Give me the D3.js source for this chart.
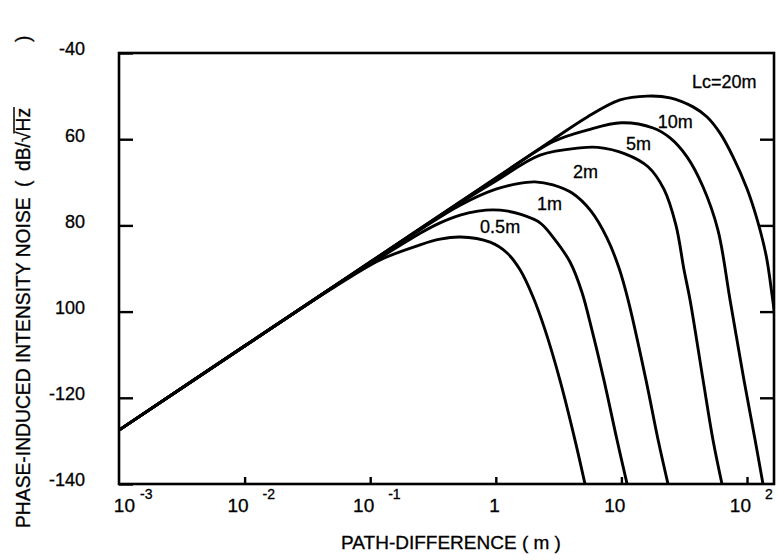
<!DOCTYPE html>
<html>
<head>
<meta charset="utf-8">
<script src="https://cdn.jsdelivr.net/npm/d3@7"></script>
<style>
  html, body { margin: 0; padding: 0; background: #fff; }
  svg { display: block; }
  text { font-family: "Liberation Sans", Arial, Helvetica, sans-serif; fill: #000; stroke: #000; stroke-width: 0.3px; }
</style>
</head>
<body>
<svg id="chart" width="777" height="560"></svg>
<script>
// Phase-induced intensity noise (dB/√Hz) versus path difference (m),
// one curve per source coherence length Lc.
const curveNames = ["0.5m", "1m", "2m", "5m", "10m", "Lc=20m"];

const noiseLc05 = [[0.001,-127.5],[0.01,-108],[0.05,-94.6],[0.12,-88.0],[0.25,-84.5],[0.36,-83.2],[0.52,-82.7],
  [0.9,-83.9],[1.23,-86.4],[1.56,-90.3],[1.98,-96.6],[2.47,-104.3],[3.24,-115.9],[4.27,-129.8],[5.13,-140]];
const noiseLc1 = [[0.001,-127.5],[0.01,-108],[0.05,-94.4],[0.12,-87.5],[0.25,-81.8],[0.36,-79.4],[0.52,-77.6],
  [0.72,-76.7],[0.95,-76.4],[1.25,-76.7],[1.56,-77.4],[2.25,-79.4],[2.85,-82.7],[3.9,-88.5],[4.85,-95.5],
  [5.83,-104.3],[7.26,-115.9],[9.23,-129.8],[11.1,-140]];
const noiseLc2 = [[0.001,-127.5],[0.01,-108],[0.05,-94.4],[0.12,-87.1],[0.25,-81.0],[0.52,-75.3],[1.0,-71.6],
  [1.5,-70.3],[2.05,-69.9],[2.85,-70.6],[4.05,-72.5],[5.73,-76.7],[7.67,-82.9],[9.57,-89.9],[11.3,-97.3],
  [15.7,-115.9],[19.6,-129.8],[23.5,-140]];
const noiseLc5 = [[0.001,-127.5],[0.01,-108],[0.1,-88.6],[0.52,-74.8],[1.0,-69.7],[2.25,-63.7],[4.69,-62.0],
  [6.5,-61.9],[10.7,-63.4],[16.3,-66.4],[21.8,-71.6],[27.2,-80.0],[31.5,-90.3],[35.2,-97.3],[44.7,-115.9],
  [53.6,-129.8],[63.2,-140]];
const noiseLc10 = [[0.001,-127.5],[0.01,-108],[0.1,-88.5],[1.0,-69.1],[2.85,-60.6],[5.32,-57.9],[10,-56.2],
  [17.9,-57.4],[24.4,-59.7],[33.3,-64.1],[44.7,-71.1],[58.7,-81.1],[73.3,-97.3],[94.6,-115.9],[116,-129.8],[134,-140]];
const noiseLc20 = [[0.001,-127.5],[0.01,-108],[0.1,-88.5],[1.0,-69.0],[2.85,-60.1],[5.32,-54.9],[9.75,-50.9],
  [16,-50.0],[24.4,-50.4],[37.2,-52.5],[48.1,-54.85],[61,-58.6],[77.4,-64.1],[100,-71.5],[120,-78.5],
  [142,-87.0],[158,-96.0],[173,-105]];

const yTickValues = [-40, -60, -80, -100, -120, -140];
const yTickLabels = ["-40", "60", "80", "100", "-120", "-140"];
const xTickValues = [0.001, 0.01, 0.1, 1, 10, 100];
const xTickBase = ["10", "10", "10", "1", "10", "10"];
const xTickExp = ["-3", "-2", "-1", "", "", "2"];

// curve label anchors, in data units (path difference m, noise dB)
const labelAnchors = [[0.75,-81.8],[2.13,-76.4],[4.12,-69.0],[10.9,-62.5],[19.5,-57.4],[36.5,-48.1]];

const series = [noiseLc05, noiseLc1, noiseLc2, noiseLc5, noiseLc10, noiseLc20];

const svg = d3.select("#chart");
const frame = { left: 119, right: 774, top: 53, bottom: 484 };

const x = d3.scaleLog().domain([0.001, 164]).range([frame.left, frame.right]);
const y = d3.scaleLinear().domain([-140, -40]).range([frame.bottom, frame.top]);

svg.append("defs").append("clipPath").attr("id", "plotArea")
  .append("rect")
  .attr("x", frame.left).attr("y", frame.top)
  .attr("width", frame.right - frame.left).attr("height", frame.bottom - frame.top);

// noise curves
const line = d3.line()
  .x(d => x(d[0]))
  .y(d => y(d[1]))
  .curve(d3.curveCatmullRom.alpha(0.5));

svg.append("g").attr("clip-path", "url(#plotArea)")
  .selectAll("path")
  .data(series)
  .join("path")
  .attr("d", line)
  .attr("fill", "none")
  .attr("stroke", "#000")
  .attr("stroke-width", 2.9)
  .attr("stroke-linejoin", "round");

// curve labels
svg.append("g")
  .selectAll("text")
  .data(curveNames)
  .join("text")
  .attr("x", (d, i) => x(labelAnchors[i][0]))
  .attr("y", (d, i) => y(labelAnchors[i][1]))
  .attr("font-size", 18)
  .text(d => d);

// axes: inward ticks
const styleAxis = g => {
  g.select(".domain").remove();
  g.selectAll(".tick line").attr("stroke", "#000").attr("stroke-width", 2.4);
};

svg.append("g")
  .attr("transform", `translate(${frame.left},0)`)
  .call(d3.axisLeft(y).tickValues(yTickValues).tickSize(-14).tickPadding(34)
    .tickFormat((d, i) => yTickLabels[i]))
  .call(styleAxis)
  .call(g => g.selectAll(".tick text")
    .attr("font-size", 18)
    .attr("font-family", '"Liberation Sans", Arial, sans-serif')
    .attr("fill", "#000")
    .attr("dy", "0.1em"));

svg.append("g")
  .attr("transform", `translate(${frame.right},0)`)
  .call(d3.axisRight(y).tickValues([-60, -80, -100, -120]).tickSize(-14).tickFormat(""))
  .call(styleAxis);

svg.append("g")
  .attr("transform", `translate(0,${frame.bottom})`)
  .call(d3.axisBottom(x).tickValues(xTickValues.slice(1)).tickSize(-7).tickFormat(""))
  .call(styleAxis);

// frame
svg.append("rect")
  .attr("x", frame.left).attr("y", frame.top)
  .attr("width", frame.right - frame.left).attr("height", frame.bottom - frame.top)
  .attr("fill", "none").attr("stroke", "#000").attr("stroke-width", 2.6);

// x tick labels: powers of ten with raised exponents
const xLab = svg.append("g");
xTickValues.forEach((v, i) => {
  const clamped = x(v) + 4 < frame.left + 16;
  const endX = clamped ? frame.left + 16 : x(v) + 4;
  xLab.append("text")
    .attr("x", endX).attr("y", 512)
    .attr("text-anchor", "end")
    .attr("font-size", 19)
    .text(xTickBase[i]);
  if (xTickExp[i]) {
    xLab.append("text")
      .attr("x", endX + (clamped ? 5 : 14)).attr("y", 499)
      .attr("font-size", 14)
      .text(xTickExp[i]);
  }
});

// x axis title
svg.append("text")
  .attr("x", 451).attr("y", 549)
  .attr("text-anchor", "middle")
  .attr("font-size", 19)
  .text("PATH-DIFFERENCE ( m )");

// y axis title, rotated, with a radical over Hz
const yt = svg.append("g").attr("transform", "translate(30,0) rotate(-90)");
yt.append("text").attr("x", -528).attr("y", 0).attr("font-size", 19.3)
  .text("PHASE-INDUCED INTENSITY NOISE");
yt.append("text").attr("x", -187).attr("y", 0).attr("font-size", 19.3).text("(");
const unit = yt.append("text").attr("x", -171).attr("y", 0).attr("font-size", 19.3);
unit.append("tspan").text("dB/");
unit.append("tspan").text("\u221A");
unit.append("tspan").text("Hz");
yt.append("text").attr("x", -42).attr("y", 0).attr("font-size", 19.3).text(")");

// bar of the radical above "Hz"
const unitNode = unit.node();
const startHz = unitNode.getSubStringLength(0, 4);
const lenHz = unitNode.getSubStringLength(4, 2);
yt.append("line")
  .attr("x1", -171 + startHz - 2).attr("x2", -171 + startHz + lenHz + 1)
  .attr("y1", -16).attr("y2", -16)
  .attr("stroke", "#000").attr("stroke-width", 1.5);
</script>
</body>
</html>
